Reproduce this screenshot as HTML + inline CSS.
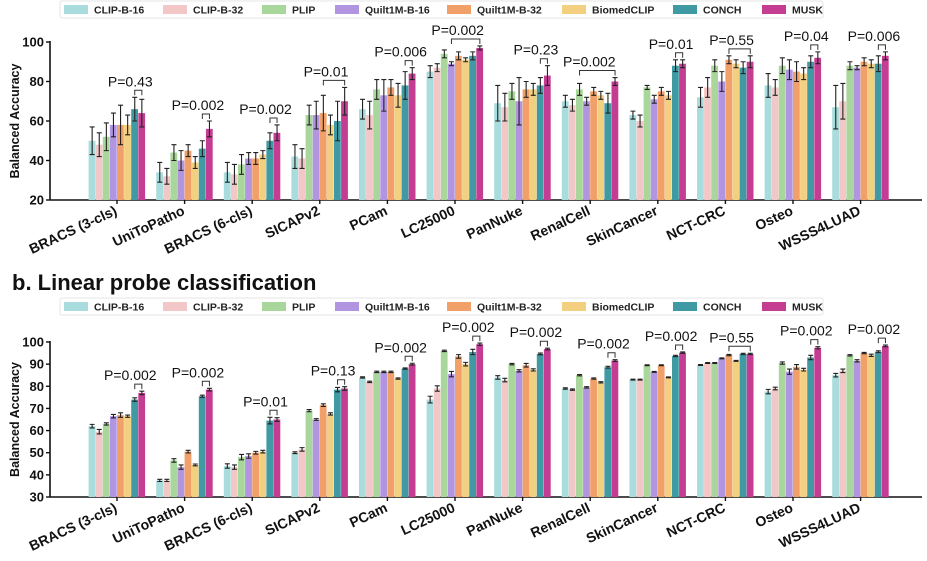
<!DOCTYPE html>
<html><head><meta charset="utf-8"><style>
body{margin:0;background:#fff;}
svg{display:block;font-family:"Liberation Sans",Arial,sans-serif;}
</style></head><body>
<svg id="chart" width="927" height="561" viewBox="0 0 927 561"></svg>
<script>
const categories=["BRACS (3-cls)","UniToPatho","BRACS (6-cls)","SICAPv2","PCam","LC25000","PanNuke","RenalCell","SkinCancer","NCT-CRC","Osteo","WSSS4LUAD"];
const seriesNames=["CLIP-B-16","CLIP-B-32","PLIP","Quilt1M-B-16","Quilt1M-B-32","BiomedCLIP","CONCH","MUSK"];
const colors=["#a9dcdc","#f2c7c7","#a9d69b","#b195e0","#f0a068","#f3cf80","#3f9aa3","#c53c93"];
// zero-shot values (per category, 8 series)
const zsValues=[
[50,48,52,58,58,58,66,64],[34,32,44,40,45,39,46,56],[34,33,38,41,41,43,50,54],
[42,41,63,63,64,58,60,70],[66,63,76,73,77,73,78,84],[85,87,94,89,93,91,93,97],
[69,67,75,70,76,76,78,83],[70,68,76,70,75,73,69,80],[63,60,77,71,75,73,88,89],
[72,77,88,80,91,89,87,90],[78,77,88,86,85,84,90,92],[67,70,88,87,90,89,89,93]];
const zsErr=[
[7,6,7,6,10,5,6,7],[5,4,4,5,3,3,4,4],[5,5,5,3,3,2,4,4],[6,5,5,7,9,5,10,7],
[5,7,5,8,4,6,7,3],[3,2,2,1,2,1,2,1],[9,7,4,12,4,3,4,5],[3,3,3,2,2,2,5,2],
[2,3,1,2,2,2,3,2],[5,5,3,5,2,2,3,3],[6,4,4,5,5,3,3,3],[11,9,2,1,2,2,4,2]];
const zsP=["P=0.43","P=0.002","P=0.002","P=0.01","P=0.006","P=0.002","P=0.23","P=0.002","P=0.01","P=0.55","P=0.04","P=0.006"];
const zsFrom=[6,6,6,4,6,3,6,2,6,4,6,6];
// linear probe values
const lpValues=[
[62,59.5,63,66.5,67,66.5,74,77],[37.5,37.5,46.5,43.5,50.5,44.5,75.5,78.5],[44,43.5,48,48.5,50,50.5,64.5,65],
[50,51.5,69,65,71.5,67.5,78.5,79],[84,82,86.5,86.5,86.5,83.5,88,90],[74,79,96,85.5,93.5,90,95.5,99],
[84,82.8,90,87,89.5,87.4,94.6,96.8],[79,78.5,85,79.5,83.5,81.8,88.6,91.6],[83,83,89.5,86.5,89.5,84,93.7,95.2],
[89.6,90.5,90.5,92.6,94.1,91.5,94.6,94.6],[77.6,79,90.5,86.6,88.8,87.5,93,97.4],[85,87,94,91.5,95,94,95.6,98.2]];
const lpErr=[
[0.8,1,0.5,0.8,1,0.5,0.8,0.8],[0.5,0.5,0.8,1,0.6,0.4,0.5,0.6],[1,1,1.2,1,0.6,0.6,1.5,0.8],
[0.4,0.8,0.5,0.4,0.6,0.5,1,0.8],[0.3,0.3,0.3,0.3,0.3,0.3,0.3,0.4],[1.5,1.2,0.3,1.2,0.8,0.8,1.2,0.5],
[0.8,0.8,0.3,0.5,0.8,0.5,0.4,0.4],[0.3,0.3,0.3,0.3,0.3,0.3,0.4,0.4],[0.2,0.2,0.2,0.2,0.2,0.2,0.3,0.3],
[0.2,0.2,0.2,0.2,0.3,0.2,0.3,0.3],[1,0.6,0.5,1.2,1,0.6,1,0.5],[0.8,0.8,0.3,0.5,0.3,0.5,0.4,0.4]];
const lpP=["P=0.002","P=0.002","P=0.01","P=0.13","P=0.002","P=0.002","P=0.002","P=0.002","P=0.002","P=0.55","P=0.002","P=0.002"];
const lpFrom=[6,6,6,6,6,6,6,6,6,4,6,6];
const zsTicks=[20,40,60,80,100];
const lpTicks=[30,40,50,60,70,80,90,100];

const NS="http://www.w3.org/2000/svg";
const svg=document.getElementById('chart');
function el(tag,attrs,parent,text){const e=document.createElementNS(NS,tag);for(const k in attrs)e.setAttribute(k,attrs[k]);if(text!==undefined)e.textContent=text;(parent||svg).appendChild(e);return e;}

function legend(y0){
  const g=el('g',{});
  
  
  el('rect',{x:60,y:y0,width:763,height:17,fill:'#fff',stroke:'#e4e4e4','stroke-width':1,rx:2},g);
  const xs=[64,163,262,335,447,562,673,762];
  seriesNames.forEach((n,i)=>{
    const eg=el('g',{},g);
    
    
    el('rect',{x:xs[i],y:y0+4,width:24,height:9,fill:colors[i]},eg);
    el('text',{x:xs[i]+30,y:y0+12.5,'font-size':10.5,'font-weight':'bold',fill:'#222'},eg,n);
  });
}

function panel(opt){
  const {values,errs,pvals,from,ticks,ymin,ymax,yTop,yBot,name}=opt;
  const g=el('g',{});
  
  
  const x0=50,x1=922;
  const yS=v=>yBot-(v-ymin)/(ymax-ymin)*(yBot-yTop);
  const xC=i=>117+67.6*i;
  const bw=7.1;
  const xB=(i,s)=>xC(i)-4*bw+s*bw;
  el('line',{x1:x0,y1:yTop-1,x2:x0,y2:yBot,stroke:'#111','stroke-width':1.6},g);
  el('line',{x1:x0,y1:yBot,x2:x1,y2:yBot,stroke:'#111','stroke-width':1.6},g);
  ticks.forEach(t=>{
    el('line',{x1:x0-4,y1:yS(t),x2:x0,y2:yS(t),stroke:'#111','stroke-width':1.4},g);
    const tl=el('text',{x:x0-6,y:yS(t)+4.5,'text-anchor':'end','font-size':13,'font-weight':'bold',fill:'#111'},g,String(t));
    
    
  });
  const yt=el('text',{x:0,y:0,transform:`translate(19,${(yTop+yBot)/2}) rotate(-90)`,'text-anchor':'middle','font-size':12.5,'font-weight':'bold',fill:'#111'},g,'Balanced Accuracy');
  
  
  categories.forEach((c,i)=>{
    el('line',{x1:xC(i),y1:yBot,x2:xC(i),y2:yBot+4,stroke:'#111','stroke-width':1.4},g);
    const xl=el('text',{x:0,y:0,transform:`translate(${xC(i)+1},${yBot+14}) rotate(-25)`,'text-anchor':'end','font-size':14,'font-weight':'bold',fill:'#111'},g,c);
    
    
    let maxTop=0;
    values[i].forEach((v,s)=>{
      const b=el('rect',{x:xB(i,s),y:yS(v),width:bw-0.3,height:yBot-yS(v),fill:colors[s]},g);
      
      
      const e=errs[i][s];const cx=xB(i,s)+bw/2;
      const a=yS(v+e),bb=yS(v-e);
      el('path',{d:`M${cx},${a}V${bb}M${cx-2.5},${a}H${cx+2.5}M${cx-2.5},${bb}H${cx+2.5}`,stroke:'#222','stroke-width':1.1,fill:'none'},g);
      if(s>=from[i]) maxTop=Math.max(maxTop,v+e);
    });
    const f=from[i];
    const bx1=xB(i,f)+bw/2, bx2=xB(i,7)+bw/2;
    const by=yS(maxTop)-7;
    const br=el('path',{d:`M${bx1},${by+5}V${by}H${bx2}V${by+5}`,stroke:'#333','stroke-width':1,fill:'none'},g);
    
    
    const pt=el('text',{x:(bx1+bx2)/2-8,y:by-4,'text-anchor':'middle','font-size':14,fill:'#111'},g,pvals[i]);
    
    
  });
}
legend(1);
panel({values:zsValues,errs:zsErr,pvals:zsP,from:zsFrom,ticks:zsTicks,ymin:20,ymax:100,yTop:42,yBot:200,name:'zero-shot-chart'});
const title=el('text',{x:12,y:290,'font-size':22,'font-weight':'bold',fill:'#111'},svg,'b. Linear probe classification');


legend(298);
panel({values:lpValues,errs:lpErr,pvals:lpP,from:lpFrom,ticks:lpTicks,ymin:30,ymax:100,yTop:342,yBot:497,name:'linear-probe-chart'});
</script>
</body></html>
